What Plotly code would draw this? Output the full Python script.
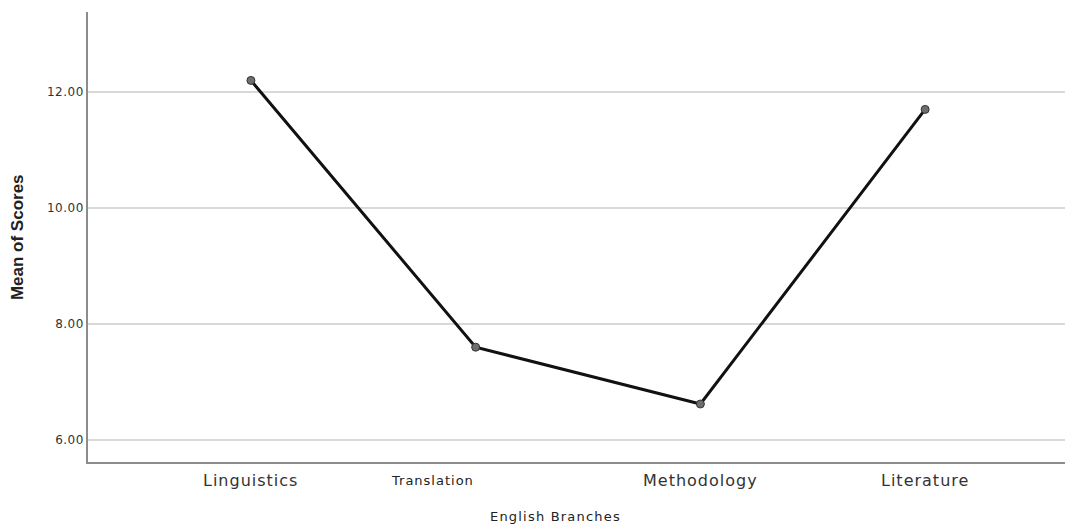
import plotly.graph_objects as go

categories = ["Linguistics", "Translation", "Methodology", "Literature"]
mean_scores = [12.2, 7.6, 6.62, 11.7]
label_sizes = [16, 13, 16, 16]
label_shift = [0, -43, 0, 0]
y_ticks = [6, 8, 10, 12]
y_tick_labels = ["6.00", "8.00", "10.00", "12.00"]

x_idx = list(range(len(categories)))

fig = go.Figure()
fig.add_trace(go.Scatter(
    x=x_idx, y=mean_scores, mode="lines+markers",
    line=dict(color="#111111", width=3),
    marker=dict(size=8, color="#6e6e6e", line=dict(color="#333333", width=1)),
    showlegend=False,
))

for xi, cat, sz, sh in zip(x_idx, categories, label_sizes, label_shift):
    txt = f'<span style="letter-spacing:1px">{cat}</span>'
    fig.add_annotation(
        text=txt, xref="x", yref="paper", x=xi, y=0, yanchor="middle", xanchor="center",
        yshift=-18, xshift=sh, showarrow=False,
        font=dict(family="DejaVu Sans", size=sz, color="#222222" if sz < 16 else "#333333"),
    )

fig.add_annotation(
    text='<span style="letter-spacing:1.2px">English Branches</span>',
    xref="paper", yref="paper", x=0.475, y=-0.121, xanchor="center", yanchor="middle",
    showarrow=False, font=dict(family="DejaVu Sans", size=13, color="#222222"),
)
fig.add_annotation(
    text="<b>Mean of Scores</b>",
    xref="paper", yref="paper", x=-0.072, y=0.5, xanchor="center", yanchor="middle",
    textangle=-90, showarrow=False,
    font=dict(family="Liberation Sans Narrow, Arial Narrow, Liberation Sans", size=17, color="#222222"),
)

fig.update_layout(
    width=1065, height=516,
    margin=dict(l=80, r=0, t=4, b=62),
    paper_bgcolor="white", plot_bgcolor="white",
    font=dict(family="DejaVu Sans, sans-serif", color="#222222"),
    xaxis=dict(
        range=[-0.725, 3.658], tickvals=x_idx, showticklabels=False,
        showgrid=False, zeroline=False, showline=True, linecolor="#8c8c8c", linewidth=1.5,
        ticks="",
    ),
    yaxis=dict(
        range=[5.62, 13.38], tickvals=y_ticks,
        ticktext=[f'<span style="letter-spacing:0.5px">{t}</span>' for t in y_tick_labels],
        showgrid=True, gridcolor="#d9d9d9", gridwidth=1.5, zeroline=False,
        showline=True, linecolor="#8c8c8c", linewidth=1.5,
        ticks="", tickfont=dict(family="DejaVu Sans", size=12, color="#333333"),
    ),
)

fig.write_html("out.html")
